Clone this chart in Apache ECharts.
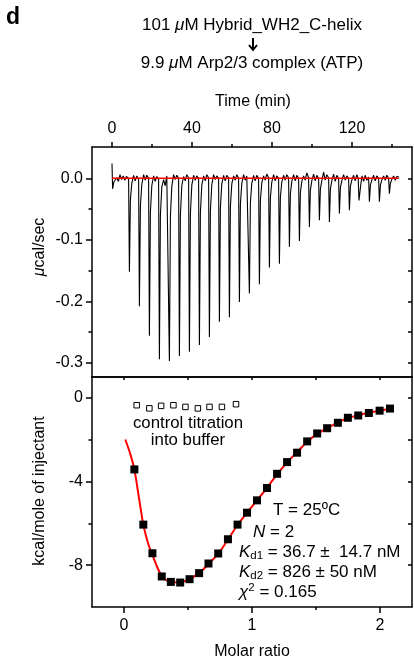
<!DOCTYPE html>
<html>
<head>
<meta charset="utf-8">
<script src="https://cdn.jsdelivr.net/npm/echarts@6/dist/echarts.min.js"></script>
<style>html,body{margin:0;padding:0;background:#fff;}#c{width:414px;height:669px;}</style>
</head>
<body>
<div id="c"></div>
<script>
// ---- data ----
const thermogram = [
 [0,0.024],[0.3,-0.017],[0.9,-0.006],[1.6,-0.009],[2.4,0.001],[3.2,-0.005],[4.0,0.006],[4.8,-0.002],[5.6,0.004],[6.4,-0.003],[7.2,0.003],[8.3,0.000],
 [8.7,-0.152],[9.2,-0.035],[9.9,-0.008],[10.8,0.005],[11.6,-0.004],[12.4,0.004],[13.3,-0.001],
 [13.7,-0.208],[14.2,-0.045],[14.9,-0.010],[15.8,0.006],[16.6,-0.003],[17.4,0.005],[18.3,0.000],
 [18.7,-0.256],[19.2,-0.055],[19.9,-0.012],[20.8,0.004],[21.6,-0.005],[22.4,0.003],[23.3,-0.001],
 [23.7,-0.294],[24.2,-0.060],[24.9,-0.014],[25.8,-0.002],[26.6,-0.012],[27.4,0.004],[28.3,0.001],
 [28.7,-0.297],[29.2,-0.062],[29.9,-0.013],[30.8,0.006],[31.6,-0.002],[32.4,0.005],[33.3,0.000],
 [33.7,-0.289],[34.2,-0.060],[34.9,-0.012],[35.8,0.003],[36.6,-0.004],[37.4,0.006],[38.3,0.001],
 [38.7,-0.282],[39.2,-0.058],[39.9,-0.011],[40.8,0.005],[41.6,-0.003],[42.4,0.004],[43.3,0.000],
 [43.7,-0.271],[44.2,-0.056],[44.9,-0.011],[45.8,0.004],[46.6,-0.004],[47.4,0.006],[48.3,0.001],
 [48.7,-0.258],[49.2,-0.053],[49.9,-0.010],[50.8,0.006],[51.6,-0.002],[52.4,0.004],[53.3,0.000],
 [53.7,-0.233],[54.2,-0.048],[54.9,-0.009],[55.8,0.005],[56.6,-0.004],[57.4,0.005],[58.3,0.001],
 [58.7,-0.226],[59.2,-0.046],[59.9,-0.009],[60.8,0.004],[61.6,-0.003],[62.4,0.006],[63.3,0.000],
 [63.7,-0.201],[64.2,-0.042],[64.9,-0.008],[65.8,0.006],[66.6,-0.003],[67.4,0.004],[68.3,0.001],
 [68.7,-0.187],[69.2,-0.039],[69.9,-0.008],[70.8,0.005],[71.6,-0.004],[72.4,0.005],[73.3,0.000],
 [73.7,-0.172],[74.2,-0.036],[74.9,-0.007],[75.8,0.004],[76.6,-0.003],[77.4,0.007],[78.3,0.001],
 [78.7,-0.145],[79.2,-0.031],[79.9,-0.006],[80.8,0.006],[81.6,-0.004],[82.4,0.004],[83.3,0.000],
 [83.7,-0.139],[84.2,-0.030],[84.9,-0.006],[85.8,0.005],[86.6,-0.003],[87.4,0.006],[88.3,0.001],
 [88.7,-0.111],[89.2,-0.025],[89.9,-0.005],[90.8,0.006],[91.6,-0.004],[92.4,0.005],[93.3,0.000],
 [93.7,-0.102],[94.2,-0.023],[94.9,-0.005],[95.8,0.004],[96.6,-0.003],[97.4,0.009],[98.3,0.001],
 [98.7,-0.079],[99.2,-0.019],[99.9,-0.004],[100.8,0.007],[101.6,-0.004],[102.4,0.005],[103.3,0.000],
 [103.7,-0.068],[104.2,-0.017],[104.9,-0.004],[105.8,0.010],[106.6,-0.003],[107.4,0.006],[108.3,0.001],
 [108.7,-0.071],[109.2,-0.017],[109.9,-0.004],[110.8,0.007],[111.6,-0.005],[112.4,0.005],[113.3,0.000],
 [113.7,-0.057],[114.2,-0.015],[114.9,-0.004],[115.8,0.006],[116.6,-0.003],[117.4,0.004],[118.3,0.000],
 [118.7,-0.052],[119.2,-0.013],[119.9,-0.003],[120.8,0.005],[121.6,-0.004],[122.4,0.006],[123.1,0.000],
 [123.5,-0.036],[124.0,-0.036],[124.4,-0.010],[125.0,0.004],[125.8,-0.005],[126.6,0.005],[127.4,-0.003],[128.3,0.002],
 [128.7,-0.038],[129.2,-0.011],[129.9,-0.003],[130.8,0.005],[131.6,-0.004],[132.4,0.004],[133.3,0.000],
 [133.7,-0.038],[134.2,-0.011],[134.9,-0.003],[135.8,0.004],[136.6,-0.003],[137.4,0.005],[138.3,0.000],
 [138.7,-0.025],[139.2,-0.008],[139.9,-0.002],[140.8,0.004],[141.6,-0.003],[142.4,0.003],[143.4,0.002]
];
const baselineTime = [0, 143.4];
const baselineValue = [0, 0];

const molarRatio = [0.081,0.151,0.222,0.295,0.366,0.439,0.512,0.587,0.660,0.736,0.812,0.887,0.961,1.039,1.117,1.196,1.274,1.352,1.431,1.509,1.587,1.671,1.749,1.830,1.913,1.997,2.078];
const heat = [-3.42,-6.06,-7.43,-8.54,-8.80,-8.83,-8.67,-8.38,-7.92,-7.44,-6.76,-6.06,-5.49,-4.90,-4.31,-3.63,-3.07,-2.62,-2.08,-1.70,-1.45,-1.19,-0.95,-0.84,-0.72,-0.61,-0.51];

const fitRatio = [0.01,0.05,0.081,0.12,0.151,0.19,0.222,0.26,0.295,0.33,0.366,0.44,0.512,0.587,0.66,0.736,0.812,0.887,0.961,1.039,1.117,1.196,1.274,1.352,1.431,1.509,1.587,1.671,1.749,1.83,1.913,1.997,2.078,2.10];
const fitHeat = [-1.99,-2.70,-3.42,-4.90,-6.06,-7.00,-7.50,-8.10,-8.52,-8.72,-8.80,-8.82,-8.66,-8.38,-7.95,-7.45,-6.78,-6.08,-5.49,-4.90,-4.30,-3.66,-3.08,-2.60,-2.10,-1.72,-1.44,-1.18,-0.96,-0.83,-0.71,-0.61,-0.52,-0.50];

const controlRatio = [0.099,0.198,0.290,0.386,0.480,0.577,0.668,0.765,0.875];
const controlHeat = [-0.35,-0.50,-0.38,-0.35,-0.43,-0.50,-0.43,-0.43,-0.30];

const timeTicks = [0, 40, 80, 120];
const timeMinorTicks = [20, 60, 100, 140];
const powerTicks = [0, -0.1, -0.2, -0.3];
const powerMinorTicks = [-0.05, -0.15, -0.25];
const ratioTicks = [0, 1, 2];
const ratioMinorTicks = [0.5, 1.5];
const heatTicks = [0, -4, -8];
const heatMinorTicks = [-2, -6];

// ---- chart ----
const FONT = '"Liberation Sans", Arial, Helvetica, sans-serif';
const LW = 1.5;
const chart = echarts.init(document.getElementById('c'), null, {renderer: 'canvas'});

function ax(base, showLine) {
  return Object.assign({
    type: 'value', scale: false,
    splitLine: {show: false},
    axisLine: {show: !!showLine, onZero: false, lineStyle: {color: '#000', width: LW}},
    axisTick: {show: false},
    axisLabel: {show: false},
    animation: false
  }, base);
}
function ticks(values, len, inside) {
  return {show: true, inside: !!inside, length: len, customValues: values, lineStyle: {color: '#000', width: LW}};
}
function labels(values, margin, fmt) {
  return {show: true, customValues: values, margin: margin, color: '#000', fontSize: 16, fontFamily: FONT, formatter: fmt};
}

const richSub = {
  i: {fontStyle: 'italic', fontSize: 17, fontFamily: FONT, lineHeight: 20, verticalAlign: 'middle'},
  s: {fontSize: 11.5, fontFamily: FONT, lineHeight: 11, verticalAlign: 'bottom'},
  sup: {fontSize: 11.5, fontFamily: FONT, lineHeight: 11, verticalAlign: 'top'},
  n: {fontSize: 17, fontFamily: FONT, lineHeight: 20, verticalAlign: 'middle'}
};

const option = {
  animation: false,
  backgroundColor: '#fff',
  grid: [
    {left: 92, top: 147, width: 320, height: 230, containLabel: false},
    {left: 92, top: 377, width: 320, height: 230, containLabel: false}
  ],
  xAxis: [
    ax({gridIndex: 0, position: 'top', min: -10, max: 150, axisTick: ticks(timeTicks, 5), axisLabel: labels(timeTicks, 10, v => String(v))}, true),
    ax({gridIndex: 0, position: 'top', min: -10, max: 150, axisTick: ticks(timeMinorTicks, 3)}),
    ax({gridIndex: 0, position: 'bottom', min: -10, max: 150}, true),
    ax({gridIndex: 1, position: 'bottom', min: -0.25, max: 2.25, axisTick: ticks(ratioTicks, 6), axisLabel: labels(ratioTicks, 11, v => String(v))}, true),
    ax({gridIndex: 1, position: 'bottom', min: -0.25, max: 2.25, axisTick: ticks(ratioMinorTicks, 3)}),
    ax({gridIndex: 1, position: 'top', min: -0.25, max: 2.25, axisTick: ticks(ratioTicks.concat(ratioMinorTicks), 3, true)}, true)
  ],
  yAxis: [
    ax({gridIndex: 0, position: 'left', min: -0.323, max: 0.051, axisTick: ticks(powerTicks, 6), axisLabel: labels(powerTicks, 9, v => v.toFixed(1))}, true),
    ax({gridIndex: 0, position: 'left', min: -0.323, max: 0.051, axisTick: ticks(powerMinorTicks, 3.5)}),
    ax({gridIndex: 0, position: 'right', min: -0.323, max: 0.051, axisTick: ticks(powerTicks.concat(powerMinorTicks), 4, true)}, true),
    ax({gridIndex: 1, position: 'left', min: -10, max: 1, axisTick: ticks(heatTicks, 6), axisLabel: labels(heatTicks, 9, v => String(v))}, true),
    ax({gridIndex: 1, position: 'left', min: -10, max: 1, axisTick: ticks(heatMinorTicks, 3.5)}),
    ax({gridIndex: 1, position: 'right', min: -10, max: 1, axisTick: ticks(heatTicks.concat(heatMinorTicks), 4, true)}, true)
  ],
  series: [
    {type: 'line', xAxisIndex: 0, yAxisIndex: 0, data: thermogram, symbol: 'none', lineStyle: {color: '#000', width: 1.1}, silent: true, z: 2},
    {type: 'line', xAxisIndex: 0, yAxisIndex: 0, data: baselineTime.map((t, i) => [t, baselineValue[i]]), symbol: 'none', lineStyle: {color: '#ff0000', width: 1.5}, silent: true, z: 3},
    {type: 'line', xAxisIndex: 3, yAxisIndex: 3, data: fitRatio.map((x, i) => [x, fitHeat[i]]), symbol: 'none', smooth: 0.3, lineStyle: {color: '#ff0000', width: 2}, silent: true, z: 2},
    {type: 'scatter', xAxisIndex: 3, yAxisIndex: 3, data: molarRatio.map((x, i) => [x, heat[i]]), symbol: 'rect', symbolSize: 8, itemStyle: {color: '#000', opacity: 1}, silent: true, z: 3},
    {type: 'scatter', xAxisIndex: 3, yAxisIndex: 3, data: controlRatio.map((x, i) => [x, controlHeat[i]]), symbol: 'rect', symbolSize: 5.5, itemStyle: {color: '#fff', borderColor: '#000', borderWidth: 1, opacity: 1}, silent: true, z: 3}
  ],
  graphic: [
    {type: 'text', left: 6, top: 6, style: {text: 'd', font: 'bold 23px ' + FONT, fill: '#000'}},
    {type: 'text', x: 252, y: 25, style: {text: '101 {i|μ}M Hybrid_WH2_C-helix', fontSize: 17, fontFamily: FONT, fill: '#000', align: 'center', verticalAlign: 'middle', rich: {i: {fontStyle: 'italic', fontSize: 17, fontFamily: FONT}}}},
    {type: 'line', shape: {x1: 253, y1: 38, x2: 253, y2: 49}, style: {stroke: '#000', lineWidth: 2}},
    {type: 'polyline', shape: {points: [[249, 45], [253, 50], [257, 45]]}, style: {stroke: '#000', lineWidth: 2, fill: null}},
    {type: 'text', x: 252, y: 63, style: {text: '9.9 {i|μ}M Arp2/3 complex (ATP)', fontSize: 17, fontFamily: FONT, fill: '#000', align: 'center', verticalAlign: 'middle', rich: {i: {fontStyle: 'italic', fontSize: 17, fontFamily: FONT}}}},
    {type: 'text', x: 253, y: 102, style: {text: 'Time (min)', fontSize: 16, fontFamily: FONT, fill: '#000', align: 'center', verticalAlign: 'middle'}},
    {type: 'text', x: 40, y: 247, rotation: Math.PI / 2, style: {text: '{i|μ}cal/sec', fontSize: 16, fontFamily: FONT, fill: '#000', align: 'center', verticalAlign: 'middle', rich: {i: {fontStyle: 'italic', fontSize: 16, fontFamily: FONT}}}},
    {type: 'text', x: 40, y: 491, rotation: Math.PI / 2, style: {text: 'kcal/mole of injectant', fontSize: 16, fontFamily: FONT, fill: '#000', align: 'center', verticalAlign: 'middle'}},
    {type: 'text', x: 252, y: 652, style: {text: 'Molar ratio', fontSize: 16, fontFamily: FONT, fill: '#000', align: 'center', verticalAlign: 'middle'}},
    {type: 'text', x: 188, y: 423, style: {text: 'control titration', fontSize: 16.8, fontFamily: FONT, fill: '#000', align: 'center', verticalAlign: 'middle'}},
    {type: 'text', x: 188, y: 440, style: {text: 'into buffer', fontSize: 16.8, fontFamily: FONT, fill: '#000', align: 'center', verticalAlign: 'middle'}},
    {type: 'text', x: 273, y: 510, style: {text: 'T = 25ºC', fontSize: 17, fontFamily: FONT, fill: '#000', align: 'left', verticalAlign: 'middle'}},
    {type: 'text', x: 253, y: 532, style: {text: '{i|N}{n| = 2}', fill: '#000', align: 'left', verticalAlign: 'middle', rich: richSub}},
    {type: 'text', x: 239, y: 552, style: {text: '{i|K}{s|d1}{n| = 36.7 ±  14.7 nM}', fill: '#000', align: 'left', verticalAlign: 'middle', rich: richSub}},
    {type: 'text', x: 239, y: 572, style: {text: '{i|K}{s|d2}{n| = 826 ± 50 nM}', fill: '#000', align: 'left', verticalAlign: 'middle', rich: richSub}},
    {type: 'text', x: 239, y: 592, style: {text: '{i|χ}{sup|2}{n| = 0.165}', fill: '#000', align: 'left', verticalAlign: 'middle', rich: richSub}}
  ]
};
chart.setOption(option);
</script>
</body>
</html>
